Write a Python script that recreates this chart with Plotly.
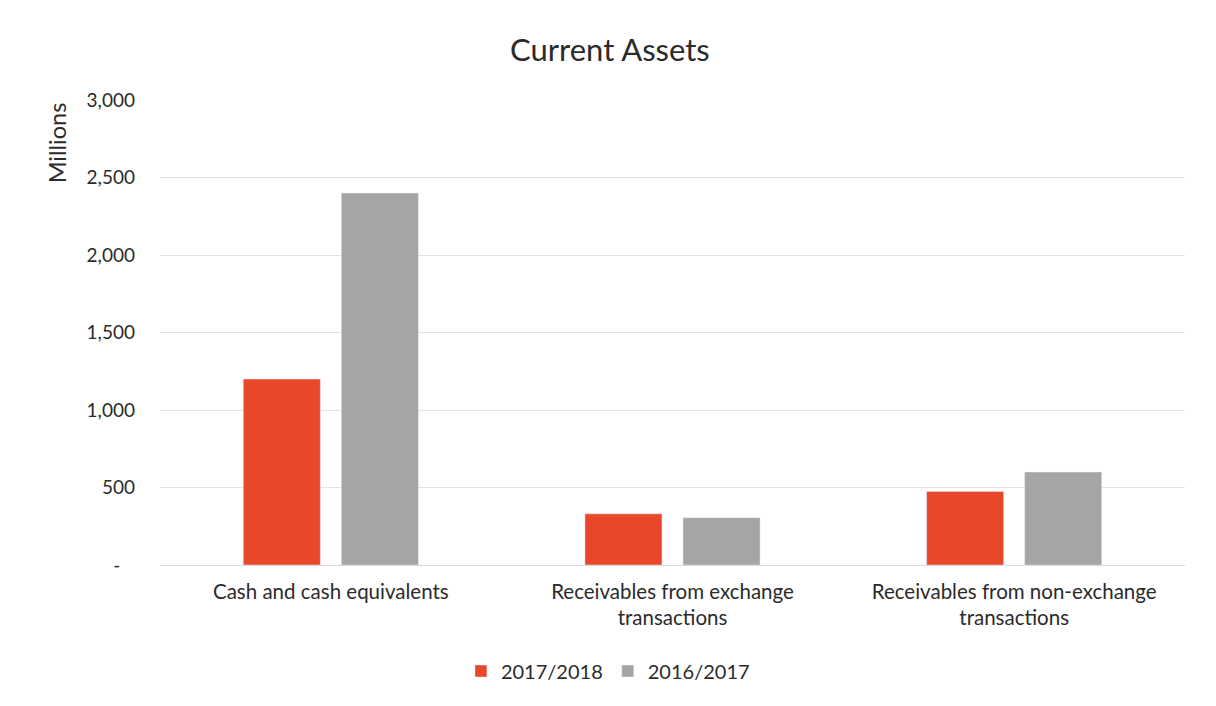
import plotly.graph_objects as go

categories = ["Cash and cash equivalents", "Receivables from exchange<br>transactions", "Receivables from non-exchange<br>transactions"]
series_2018 = [1200, 330, 475]
series_2017 = [2400, 305, 600]
tick_vals = [0, 500, 1000, 1500, 2000, 2500, 3000]
tick_text = ["-\u00a0\u00a0\u00a0", "500", "1,000", "1,500", "2,000", "2,500", "3,000"]

FONT = "Lato, 'Open Sans', sans-serif"
TXT = "#2b2b2b"

fig = go.Figure()
fig.add_trace(go.Bar(name="2017/2018", x=categories, y=series_2018, marker_color="#E9472A"))
fig.add_trace(go.Bar(name="2016/2017", x=categories, y=series_2017, marker_color="#A5A5A5"))

fig.update_layout(
    width=1216, height=706,
    paper_bgcolor="white", plot_bgcolor="white",
    barmode="group", bargap=0.426, bargroupgap=0.214,
    title=dict(text="Current Assets", x=0.495, xanchor="center", y=0.94, yanchor="middle",
               font=dict(family=FONT, size=31, color=TXT)),
    margin=dict(l=152, r=39, t=92, b=149),
    font=dict(family=FONT, color=TXT),
    legend=dict(orientation="h", x=0.437, xanchor="center", y=-0.228, yanchor="middle",
                font=dict(family=FONT, size=20, color=TXT), traceorder="normal"),
    showlegend=True,
    annotations=[dict(text="Millions", xref="paper", yref="paper", x=-0.1005, y=0.909,
                      xanchor="center", yanchor="middle", textangle=-90, showarrow=False,
                      font=dict(family=FONT, size=23.5, color=TXT))],
)
fig.update_yaxes(range=[0, 3000], tickvals=tick_vals, ticktext=tick_text, automargin=False,
                 showgrid=True, gridcolor="#E3E3E3", gridwidth=1, zeroline=False,
                 tickfont=dict(size=19, color=TXT), ticks="", showline=False, ticklabelstandoff=24)
fig.update_xaxes(showline=True, linecolor="#D9D9D9", linewidth=1, automargin=False,
                 tickfont=dict(size=20.5, color=TXT), ticks="", ticklabelstandoff=8)

fig.write_html("out.html")
